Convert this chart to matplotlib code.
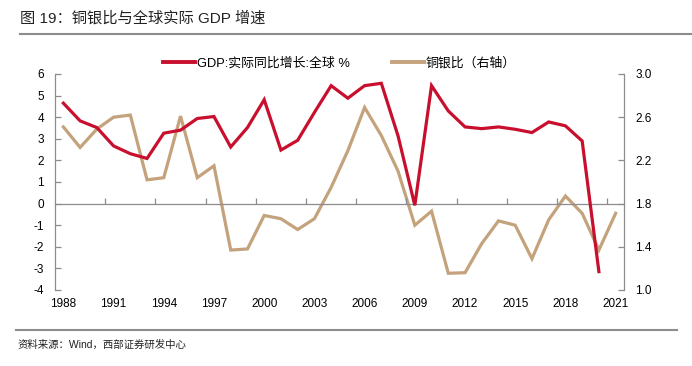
import matplotlib
matplotlib.use("Agg")
import matplotlib.pyplot as plt
from matplotlib.lines import Line2D
import numpy as np

years = list(range(1988, 2022))
gdp = [4.65, 3.83, 3.52, 2.67, 2.31, 2.09, 3.26, 3.40, 3.94, 4.03, 2.62, 3.52,
       4.81, 2.48, 2.93, 4.22, 5.46, 4.88, 5.46, 5.57, 3.13, -0.08, 5.46, 4.29,
       3.55, 3.47, 3.55, 3.44, 3.29, 3.78, 3.60, 2.90, -3.15, np.nan]
cu_ag = [2.51, 2.32, 2.49, 2.60, 2.62, 2.02, 2.04, 2.61, 2.04, 2.15, 1.37, 1.38,
         1.69, 1.66, 1.56, 1.66, 1.95, 2.29, 2.69, 2.43, 2.10, 1.60, 1.73, 1.155,
         1.16, 1.43, 1.64, 1.60, 1.29, 1.65, 1.87, 1.71, 1.37, 1.71]
xlabels = [str(y) for y in range(1988, 2022, 3)]
left_ticks = list(range(-4, 7))
right_ticks = [1.0, 1.4, 1.8, 2.2, 2.6, 3.0]

title = "图 19：铜银比与全球实际 GDP 增速"
source = "资料来源：Wind，西部证券研发中心"
name_gdp = "GDP:实际同比增长:全球 %"
name_cu = "铜银比（右轴）"

RED = "#C8102E"
TAN = "#C4A27C"
GRAY = "#8C8C8C"
fam = ["Liberation Sans", "Noto Sans CJK SC", "DejaVu Sans"]
plt.rcParams["font.family"] = fam

fig = plt.figure(figsize=(6.92, 3.66), dpi=100)
ax = fig.add_axes([55/692, 1-290/366, (624-55)/692, (290-74)/366])
ax2 = ax.twinx()

ax.plot(years, gdp, color=RED, lw=2.3, solid_joinstyle="miter", zorder=3)
ax2.plot(years, cu_ag, color=TAN, lw=2.3, solid_joinstyle="miter", zorder=2)
ax.set_zorder(ax2.get_zorder() + 1)
ax.patch.set_visible(False)

ax.set_xlim(1987.5, 2021.5)
ax.set_ylim(-4, 6)
ax2.set_ylim(1.0, 3.0)
ax.set_yticks(left_ticks)
ax.set_yticklabels([str(v) for v in left_ticks])
ax2.set_yticks(right_ticks)
ax2.set_yticklabels([f"{v:.1f}" for v in right_ticks])

ax.set_xticks(list(range(1988, 2022, 3)))
ax.set_xticklabels(xlabels)
ax.set_xticks(list(np.arange(1990.5, 2021, 3)), minor=True)

for a in (ax, ax2):
    a.spines["top"].set_visible(False)
    for s in ("left", "right", "bottom"):
        a.spines[s].set_color(GRAY)
        a.spines[s].set_linewidth(0.9)
ax2.spines["bottom"].set_visible(False)
ax.spines["right"].set_visible(False)
ax2.spines["left"].set_visible(False)
ax.spines["bottom"].set_position(("data", 0))

ax.tick_params(axis="x", which="major", length=0, pad=68, labelsize=8.5, labelcolor="#000000")
ax.tick_params(axis="x", which="minor", direction="in", length=4, color=GRAY, width=0.9)
ax.tick_params(axis="y", direction="in", length=4, color=GRAY, width=0.9, labelsize=8.5, pad=8)
ax2.tick_params(axis="y", direction="in", length=4, color=GRAY, width=0.9, labelsize=8.5, pad=8)

handles = [Line2D([], [], color=RED, lw=2.8), Line2D([], [], color=TAN, lw=2.8)]
ax.legend(handles, [name_gdp, name_cu], ncol=2, frameon=False, loc="lower center",
          bbox_to_anchor=(0.5, 0.99), fontsize=9.3, handlelength=2.5, handletextpad=0.15,
          columnspacing=3.2, borderaxespad=0.1)

fig.text(20/692, 1-18/366, title, fontsize=11, va="center", ha="left", color="#222222")
fig.add_artist(Line2D([20/692, 1.0], [1-34/366, 1-34/366], color=GRAY, lw=1.5))
fig.add_artist(Line2D([16/692, 677/692], [1-330/366, 1-330/366], color=GRAY, lw=1.5))
fig.text(18/692, 1-345/366, source, fontsize=7.5, va="center", ha="left", color="#222222")

fig.savefig("out.png", dpi=100)
